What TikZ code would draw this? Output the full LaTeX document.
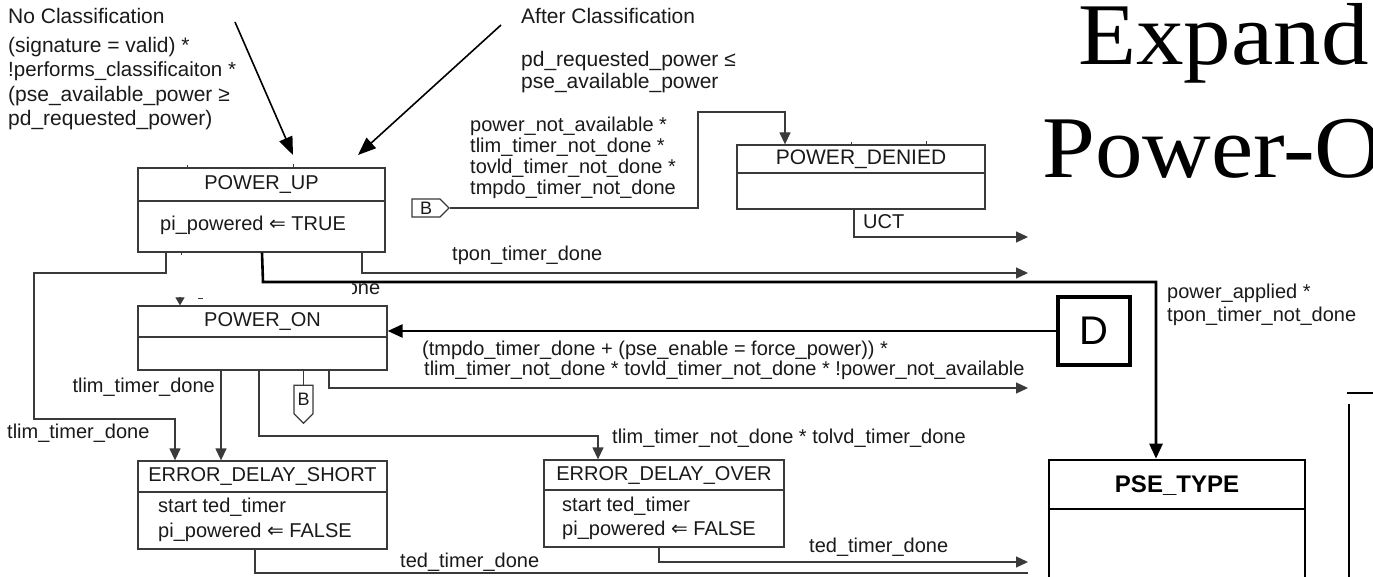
\documentclass[tikz,border=0pt]{standalone}
\usepackage{fontspec}
\setmainfont{Liberation Sans}
\newfontfamily\titlefont{Liberation Serif}
\newfontfamily\symfont{DejaVu Sans}
\usetikzlibrary{arrows.meta,shapes.symbols}
\definecolor{ink}{HTML}{1A1A1A}
\definecolor{linegray}{HTML}{3A3A3A}
\tikzset{
  box/.style={draw=linegray, line width=1.3pt, inner sep=0pt},
  thickbox/.style={draw=black, line width=2.6pt, inner sep=0pt},
  lbl/.style={font=\fontsize{20}{24}\selectfont, text=ink, inner sep=0pt, text height=14.5pt, text depth=4pt, anchor=west},
  toplbl/.style={lbl, font=\fontsize{21}{25}\selectfont, text height=15.2pt, text depth=4.2pt},
  ttl/.style={lbl, anchor=center},
  conn/.style={draw=linegray, line width=1.3pt},
  arr/.style={conn, -{Triangle[length=12pt,width=11pt]}},
  smallarr/.style={conn, -{Triangle[length=8pt,width=9pt]}},
  thk/.style={draw=black, line width=2.6pt},
  thkarr/.style={thk, -{Triangle[length=15pt,width=13pt]}},
  bigarr/.style={draw=black, line width=1.6pt, -{Triangle[length=18pt,width=14pt]}},
  sig/.style={draw=linegray, line width=1.1pt, signal, signal from=nowhere, inner sep=0.5pt, font=\fontsize{18}{20}\selectfont, text=ink},
  tick/.style={draw=linegray, line width=1pt},
  bigtitle/.style={anchor=base west, inner sep=0pt, font=\titlefont\fontsize{88}{96}\selectfont},
}
\begin{document}
\begin{tikzpicture}[x=1pt,y=-1pt]
\useasboundingbox (0,0) rectangle (1373,577);
\clip (0,0) rectangle (1373,577);
\fill[white] (0,0) rectangle (1373,577);

% ---- title
\node[bigtitle] (tExpand) at (1078,65) {\scalebox{1.08}[1]{Expand}};
\node[bigtitle] (tPower) at (1042,178) {\scalebox{1.08}[1]{Power-O}};

% ---- states
\node[box, minimum width=247pt, minimum height=84pt] (pu) at (261.5,210) {};
\draw[conn] (pu.west |- 0,201) -- (pu.east |- 0,201);
\node[ttl] (puT) at (261.5,184.5) {POWER\_UP};
\node[lbl] (puB) at (160,225) {pi\_powered {\symfont ⇐} TRUE};

\node[box, minimum width=248pt, minimum height=64pt] (pd) at (861,177) {};
\draw[conn] (pd.west |- 0,173) -- (pd.east |- 0,173);
\node[ttl, font=\fontsize{21}{24}\selectfont] (pdT) at (861,159) {POWER\_DENIED};

\node[box, minimum width=249pt, minimum height=64pt] (pon) at (262.5,338) {};
\draw[conn] (pon.west |- 0,337) -- (pon.east |- 0,337);
\node[ttl] (ponT) at (262.5,321.5) {POWER\_ON};

\node[box, minimum width=249pt, minimum height=88pt] (eds) at (262.5,505) {};
\draw[conn] (eds.west |- 0,492) -- (eds.east |- 0,492);
\node[ttl] (edsT) at (262.5,476.5) {ERROR\_DELAY\_SHORT};
\node[lbl] (edsA) at (158,507) {start ted\_timer};
\node[lbl] (edsB) at (158,532) {pi\_powered {\symfont ⇐} FALSE};

\node[box, minimum width=240pt, minimum height=87pt] (edo) at (664,503.5) {};
\draw[conn] (edo.west |- 0,490) -- (edo.east |- 0,490);
\node[ttl] (edoT) at (664,475) {ERROR\_DELAY\_OVER};
\node[lbl] (edoA) at (562,506) {start ted\_timer};
\node[lbl] (edoB) at (562,530) {pi\_powered {\symfont ⇐} FALSE};

\node[thickbox, minimum width=256pt, minimum height=140pt] (pse) at (1177,530) {};
\draw[thk] (pse.west |- 0,509) -- (pse.east |- 0,509);
\node[inner sep=0pt, font=\bfseries\fontsize{24}{28}\selectfont] (pseT) at (1177,486) {PSE\_TYPE};

\node[draw=black, line width=3.5pt, minimum width=72pt, minimum height=68pt, inner sep=0pt, font=\fontsize{40}{44}\selectfont] (D) at (1094,331) {D};

\node[sig, signal to=east, minimum width=37pt, minimum height=18pt] (b1) at (426,208) {B};
\node[sig, signal to=south, minimum width=19pt, minimum height=35pt] (b2) at (303.5,399.5) {B};

% ---- free end points
\coordinate (nc1) at (235,22);
\coordinate (nc2) at (293,155);
\coordinate (ac1) at (501,25);
\coordinate (ac2) at (358,155);
\coordinate (eUct) at (1028,237);
\coordinate (eTpon) at (1028,273);
\coordinate (ePon) at (1028,388);
\coordinate (eEdo) at (1028,562);
\coordinate (eEds) at (1028,573);

% ---- connectors
\draw[bigarr] (nc1) -- (nc2);
\draw[bigarr] (ac1) -- (ac2);
\draw[arr] (b1.east) -| (698,112) -| (pd.north -| 785,0);
\draw[arr] (pd.south -| 854,0) |- (eUct);
\draw[arr] (pu.south -| 362,0) |- (eTpon);
\draw[thkarr] (pu.south -| 262,0) -- (263,282) -| (pse.north -| 1156,0);
\draw[arr] (pu.south -| 166,0) |- (34,273) |- (175,419) -- (eds.north -| 175,0);
\draw[smallarr] (180,297) -- (pon.north -| 180,0);
\draw[thkarr] (D.west) -- (D.west -| pon.east);
\draw[arr] (pon.south -| 329,0) |- (ePon);
\draw[conn] (pon.south -| b2) -- (b2.north);
\draw[arr] (pon.south -| 221,0) -- (eds.north -| 221,0);
\draw[arr] (pon.south -| 259,0) |- (598,436) -- (edo.north -| 598,0);
\draw[arr] (edo.south -| 659,0) |- (eEdo);
\draw[conn] (eds.south -| 255,0) |- (eEds);

% ---- partial shape at right edge
\draw[thk] (1349,404) -- (1349,590);
\draw[thk] (1347,393) -- (1380,393);

% ---- small marks
\draw[tick] (187,165) -- (187,168);
\draw[tick] (293,164) -- (293,168);
\draw[tick] (181,252) -- (181,255);
\draw[tick] (851,142) -- (851,145);
\draw[tick] (926,141) -- (926,145);
\draw[tick] (198,299) -- (203,299);

% ---- labels
\node[toplbl] (nc) at (8,18) {No Classification};
\node[toplbl] (ncA) at (8,47) {(signature = valid) *};
\node[toplbl, font=\fontsize{20.5}{25}\selectfont] (ncB) at (8,71) {!performs\_classificaiton *};
\node[toplbl] (ncC) at (8,96) {(pse\_available\_power ≥};
\node[toplbl] (ncD) at (8,120) {pd\_requested\_power)};

\node[toplbl] (ac) at (521,18) {After Classification};
\node[toplbl] (acA) at (521,61) {pd\_requested\_power ≤};
\node[toplbl] (acB) at (521,83) {pse\_available\_power};

\node[lbl] (pnA) at (470,126) {power\_not\_available *};
\node[lbl] (pnB) at (470,147) {tlim\_timer\_not\_done *};
\node[lbl] (pnC) at (470,168) {tovld\_timer\_not\_done *};
\node[lbl] (pnD) at (470,189) {tmpdo\_timer\_not\_done};

\node[lbl] (uct) at (863,223) {UCT};
\node[lbl] (tpon) at (452,255) {tpon\_timer\_done};
\begin{scope}
\clip (352,270) rectangle (420,305);
\node[lbl] (hid) at (335.5,289) {done};
\end{scope}

\node[lbl] (fpA) at (422,350) {(tmpdo\_timer\_done + (pse\_enable = force\_power)) *};
\node[lbl] (fpB) at (424,370) {tlim\_timer\_not\_done * tovld\_timer\_not\_done * !power\_not\_available};
\node[lbl, anchor=east] (tl1) at (215,387) {tlim\_timer\_done};
\node[lbl] (tl2) at (7,433) {tlim\_timer\_done};
\node[lbl] (tlo) at (612,438) {tlim\_timer\_not\_done * tolvd\_timer\_done};
\node[lbl] (ted1) at (400,562) {ted\_timer\_done};
\node[lbl] (ted2) at (809,547) {ted\_timer\_done};
\node[lbl] (paA) at (1167,293) {power\_applied *};
\node[lbl] (paB) at (1167,316) {tpon\_timer\_not\_done};
\end{tikzpicture}
\end{document}
